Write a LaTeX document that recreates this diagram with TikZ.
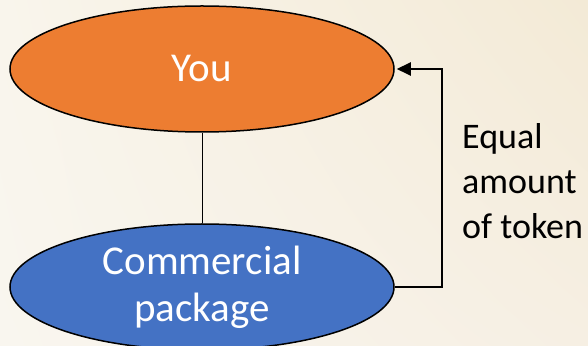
\documentclass[tikz,border=0pt]{standalone}
\usepackage{fontspec}
\setmainfont{Carlito}
\usepackage{xcolor}
\usetikzlibrary{shapes.geometric, arrows.meta, shadings}

\definecolor{youorange}{RGB}{237,125,49}
\definecolor{pkgblue}{RGB}{68,114,196}
\definecolor{paperUL}{RGB}{249,245,236}
\definecolor{paperUR}{RGB}{243,234,214}
\definecolor{paperLL}{RGB}{249,246,239}
\definecolor{paperLR}{RGB}{246,239,227}

\begin{document}
\begin{tikzpicture}[x=1pt, y=1pt,
    party/.style={ellipse, draw=black, line width=1.5pt, inner sep=0pt,
      minimum width=384pt, minimum height=126pt, text=white, align=center,
      font=\fontsize{41}{47}\selectfont},
    flow/.style={draw=black, line width=2pt,
      -{Triangle[length=14pt, width=13pt]}}]
  % Background
  \clip (0, 0) rectangle (588, 345);
  \shade[upper left=paperUL, upper right=paperUR,
         lower left=paperLL, lower right=paperLR]
     (0, 0) rectangle (588, 345);

  % Parties
  \node[party, fill=youorange] (you) at (202, 276) {You};
  \node[party, fill=pkgblue] (pkg) at (202, 58) {Commercial\\package};

  % Link
  \draw[line width=0.75pt] (you.south) -- (pkg.north);

  % Token exchange
  \draw[flow, shorten >=2pt] (pkg.east) -- ++(47, 0) |- (you.east);
  \node[anchor=west, align=left, inner sep=0pt,
        font=\fontsize{36}{45}\selectfont] (token) at (462, 163.5)
     {Equal\\amount\\of token};
\end{tikzpicture}
\end{document}
